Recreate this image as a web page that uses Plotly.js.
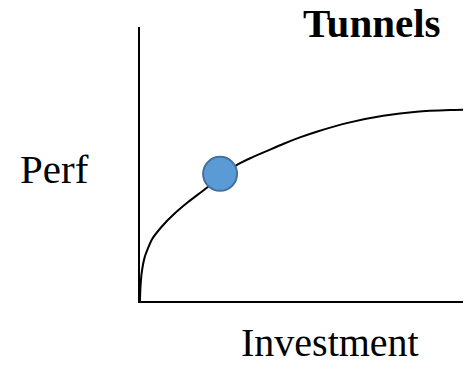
<!DOCTYPE html>
<html>
<head>
<meta charset="utf-8">
<script src="https://cdn.plot.ly/plotly-3.0.1.min.js"></script>
<style>html,body{margin:0;padding:0;background:#fff;}#chart{width:468px;height:365px;}</style>
</head>
<body>
<div id="chart"></div>
<script>
const curveX = [0, 0.1, 0.5, 1.5, 3.6, 6.7, 10.8, 15.0, 19.1, 24.8, 29.9, 34.1, 39.2, 44.3, 49.5, 54.7, 65.0, 75.3, 85.7, 96.0, 100];
const curveY = [0, 4.0, 10.1, 16.2, 22.3, 27.1, 32.0, 36.2, 39.9, 45.1, 49.6, 52.1, 54.7, 57.3, 59.7, 61.8, 65.2, 67.6, 69.1, 69.7, 69.8];
const pointX = [24.8];
const pointY = [46.4];
const titleText = 'Tunnels';
const xLabel = 'Investment';
const yLabel = 'Perf';

const serif = 'Liberation Serif';

const data = [
  {x: curveX, y: curveY, mode: 'lines', line: {color: '#000', width: 2, shape: 'spline', smoothing: 0.5}, hoverinfo: 'skip', showlegend: false},
  {x: pointX, y: pointY, mode: 'markers', marker: {size: 34, color: '#5B9BD5', line: {color: '#41719C', width: 2}}, showlegend: false}
];

const layout = {
  width: 468, height: 365,
  margin: {l: 140, r: 5, t: 27, b: 64},
  paper_bgcolor: '#fff', plot_bgcolor: '#fff',
  xaxis: {range: [0, 100], showline: true, linecolor: '#000', linewidth: 2, showgrid: false, zeroline: false, showticklabels: false, ticks: ''},
  yaxis: {range: [0, 100], showline: true, linecolor: '#000', linewidth: 2, showgrid: false, zeroline: false, showticklabels: false, ticks: ''},
  annotations: [
    {text: '<b>' + titleText + '</b>', xref: 'paper', yref: 'paper', x: 0.717, y: 1.0146, xanchor: 'center', yanchor: 'middle', showarrow: false, borderpad: 0, font: {family: serif, size: 41, color: '#000'}},
    {text: xLabel, xref: 'paper', yref: 'paper', x: 0.588, y: -0.150, xanchor: 'center', yanchor: 'middle', showarrow: false, borderpad: 0, font: {family: serif, size: 40, color: '#000'}},
    {text: yLabel, xref: 'paper', yref: 'paper', x: -0.266, y: 0.482, xanchor: 'center', yanchor: 'middle', showarrow: false, borderpad: 0, font: {family: serif, size: 41, color: '#000'}}
  ]
};

Plotly.newPlot('chart', data, layout, {displayModeBar: false, staticPlot: true});
</script>
</body>
</html>
